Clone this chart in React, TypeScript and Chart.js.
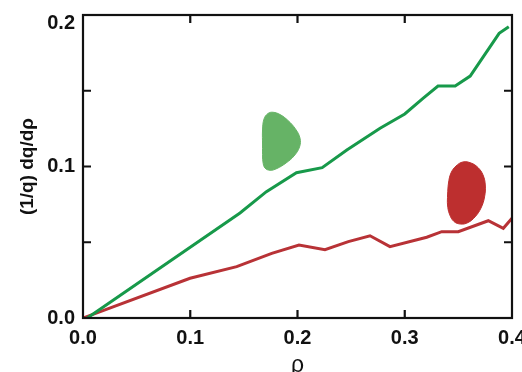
import React, { useEffect, useRef } from 'react';
import { Chart, registerables } from 'chart.js';

Chart.register(...registerables);

// Normalised minor radius rho and shear profile (1/q) dq/drho
const greenRho = [0.004, 0.1464, 0.171, 0.199, 0.223, 0.246, 0.277, 0.3, 0.317, 0.331, 0.347, 0.361, 0.388, 0.397];
const greenVal = [0, 0.0693, 0.0834, 0.0959, 0.0992, 0.1109, 0.1252, 0.1347, 0.145, 0.1531, 0.1531, 0.1597, 0.1879, 0.1923];

const redRho = [0, 0.0998, 0.1433, 0.176, 0.2014, 0.2256, 0.2474, 0.2676, 0.2862, 0.3205, 0.3345, 0.3499, 0.3779, 0.3919, 0.4];
const redVal = [0, 0.0262, 0.0339, 0.0427, 0.0482, 0.0451, 0.0504, 0.0543, 0.0471, 0.0533, 0.057, 0.057, 0.0642, 0.0592, 0.0658];

// Outlines of the two filled markers, in data coordinates
const greenBlobRho = [0.1674, 0.1674, 0.1688, 0.1725, 0.1772, 0.1837, 0.1911, 0.1981, 0.2023, 0.2019, 0.1967, 0.1893, 0.1809, 0.1744, 0.1697, 0.1678, 0.1674, 0.1674];
const greenBlobVal = [0.1142, 0.1241, 0.1314, 0.135, 0.1358, 0.1343, 0.1304, 0.1248, 0.1188, 0.1129, 0.1069, 0.1023, 0.0987, 0.0975, 0.099, 0.103, 0.1096, 0.1142];

const redBlobRho = [0.3399, 0.3408, 0.3431, 0.3478, 0.3543, 0.3618, 0.3683, 0.373, 0.3751, 0.3744, 0.3711, 0.3655, 0.359, 0.3524, 0.3459, 0.3417, 0.3399, 0.3399];
const redBlobVal = [0.0812, 0.0891, 0.0957, 0.1003, 0.103, 0.1023, 0.0993, 0.0944, 0.0878, 0.0799, 0.0726, 0.0667, 0.063, 0.062, 0.0637, 0.0686, 0.0746, 0.0812];

const xTicks = [0, 0.1, 0.2, 0.3, 0.4];
const yTicks = [0, 0.05, 0.1, 0.15, 0.2];
const yLabels = [0, 0.1, 0.2];

const GREEN = '#17994a';
const GREEN_FILL = '#66b366';
const RED = '#b83236';
const RED_FILL = '#bd2f2f';
const INK = '#111';
const FONT = "'Liberation Sans', Arial, sans-serif";
const TICK_FONT = `bold 20px ${FONT}`;

const pts = (xs: number[], ys: number[]) => xs.map((x, i) => ({ x, y: ys[i] }));

// Closed frame with inward-pointing tick marks on all four sides,
// plus the left-hand value labels (kept inside the canvas at the top).
const framePlugin = {
  id: 'frame',
  afterDatasetsDraw(chart: any) {
    const { ctx, chartArea: a, scales } = chart;
    const len = 8;
    ctx.save();
    ctx.strokeStyle = INK;
    ctx.lineWidth = 2.2;
    ctx.beginPath();
    xTicks.slice(1, -1).forEach((v) => {
      const px = scales.x.getPixelForValue(v);
      ctx.moveTo(px, a.bottom);
      ctx.lineTo(px, a.bottom - len);
      ctx.moveTo(px, a.top);
      ctx.lineTo(px, a.top + len);
    });
    yTicks.slice(1, -1).forEach((v) => {
      const py = scales.y.getPixelForValue(v);
      ctx.moveTo(a.left, py);
      ctx.lineTo(a.left + len, py);
      ctx.moveTo(a.right, py);
      ctx.lineTo(a.right - len, py);
    });
    ctx.stroke();
    ctx.strokeRect(a.left, a.top, a.right - a.left, a.bottom - a.top);

    ctx.fillStyle = INK;
    ctx.font = TICK_FONT;
    ctx.textAlign = 'right';
    ctx.textBaseline = 'middle';
    yLabels.forEach((v) => {
      const py = Math.max(scales.y.getPixelForValue(v), a.top + 8);
      ctx.fillText(v.toFixed(1), a.left - 8, py);
    });
    ctx.restore();
  },
};

export default function App() {
  const ref = useRef<HTMLCanvasElement>(null);

  useEffect(() => {
    document.body.style.margin = '0';
    const canvas = ref.current;
    if (!canvas) return;
    const chart = new Chart(canvas, {
      type: 'line',
      data: {
        datasets: [
          {
            data: pts(greenBlobRho, greenBlobVal),
            borderColor: GREEN_FILL,
            backgroundColor: GREEN_FILL,
            borderWidth: 1,
            fill: 'shape',
            tension: 0.4,
            pointRadius: 0,
          },
          {
            data: pts(redBlobRho, redBlobVal),
            borderColor: RED_FILL,
            backgroundColor: RED_FILL,
            borderWidth: 1,
            fill: 'shape',
            tension: 0.4,
            pointRadius: 0,
          },
          {
            data: pts(greenRho, greenVal),
            borderColor: GREEN,
            borderWidth: 3,
            fill: false,
            tension: 0,
            pointRadius: 0,
          },
          {
            data: pts(redRho, redVal),
            borderColor: RED,
            borderWidth: 3,
            fill: false,
            tension: 0,
            pointRadius: 0,
          },
        ],
      } as any,
      options: {
        responsive: false,
        animation: false,
        layout: { padding: { top: 15, right: 10, left: 0, bottom: 0 } },
        plugins: { legend: { display: false }, tooltip: { enabled: false } },
        scales: {
          x: {
            type: 'linear',
            min: 0,
            max: 0.4,
            afterBuildTicks: (s: any) => {
              s.ticks = xTicks.map((value) => ({ value }));
            },
            afterFit: (s: any) => {
              s.height = 54;
              s.paddingLeft = 0;
              s.paddingRight = 0;
            },
            grid: { display: false, drawTicks: false },
            border: { display: false },
            ticks: {
              padding: 8,
              maxRotation: 0,
              autoSkip: false,
              color: INK,
              font: { family: FONT, size: 20, weight: 'bold' },
              callback: (v: any) => Number(v).toFixed(1),
            },
            title: {
              display: true,
              text: 'ρ',
              color: INK,
              padding: { top: 0, bottom: -7 },
              font: { family: FONT, size: 23 },
            },
          },
          y: {
            type: 'linear',
            min: 0,
            max: 0.2,
            afterBuildTicks: (s: any) => {
              s.ticks = yTicks.map((value) => ({ value }));
            },
            afterFit: (s: any) => {
              s.width = 83;
              s.paddingTop = 0;
              s.paddingBottom = 0;
            },
            grid: { display: false, drawTicks: false },
            border: { display: false },
            ticks: { display: false },
            title: {
              display: true,
              text: '(1/q) dq/dρ',
              color: INK,
              padding: { top: 16, bottom: 0 },
              font: { family: FONT, size: 19, weight: 'bold' },
            },
          },
        },
      } as any,
      plugins: [framePlugin],
    });
    return () => chart.destroy();
  }, []);

  return (
    <div style={{ width: 522, height: 372, background: '#fff' }}>
      <canvas ref={ref} width={522} height={372} style={{ display: 'block' }} />
    </div>
  );
}
